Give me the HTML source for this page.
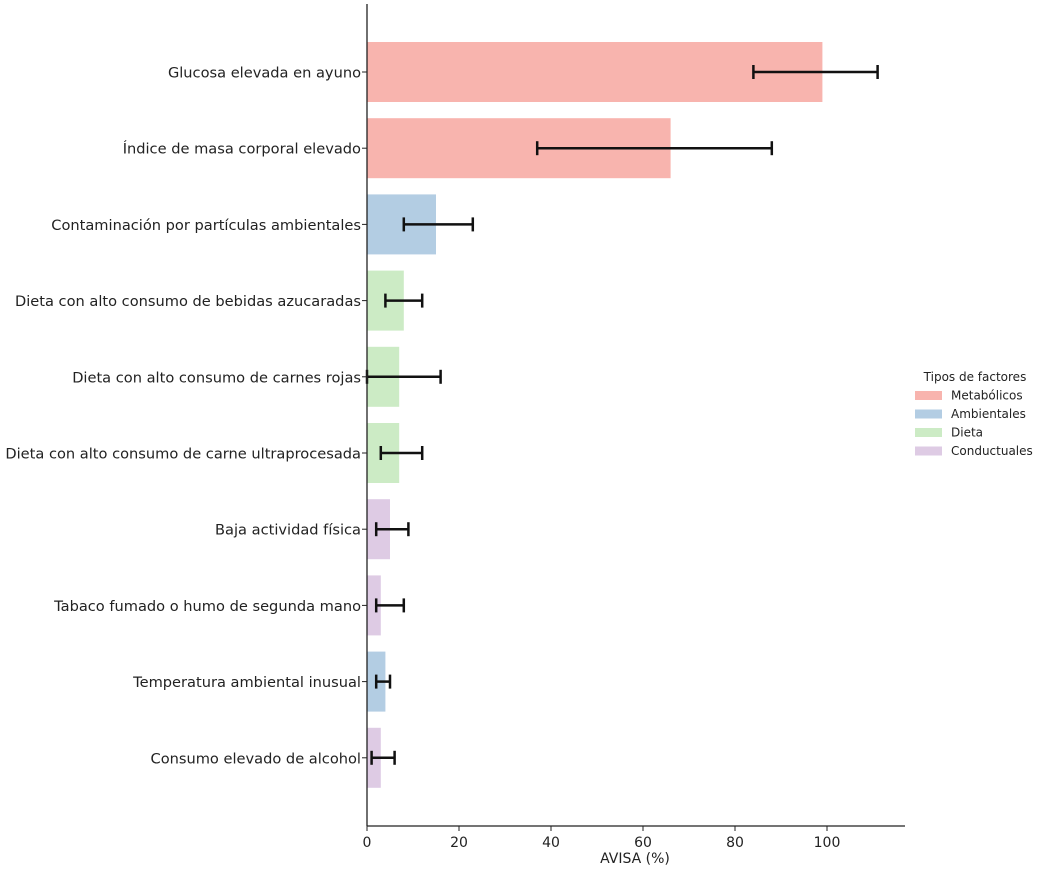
<!DOCTYPE html>
<html><head><meta charset="utf-8"><style>
body{margin:0;background:#fff;}
svg{display:block;font-family:"DejaVu Sans","Liberation Sans",sans-serif;}
</style></head><body>
<svg id="chart" width="1037" height="869" viewBox="0 0 1037 869"></svg>
<script>
const categories=["Glucosa elevada en ayuno","Índice de masa corporal elevado","Contaminación por partículas ambientales","Dieta con alto consumo de bebidas azucaradas","Dieta con alto consumo de carnes rojas","Dieta con alto consumo de carne ultraprocesada","Baja actividad física","Tabaco fumado o humo de segunda mano","Temperatura ambiental inusual","Consumo elevado de alcohol"];
const values=[99,66,15,8,7,7,5,3,4,3];
const errLow=[84,37,8,4,0,3,2,2,2,1];
const errHigh=[111,88,23,12,16,12,9,8,5,6];
const types=["Metabólicos","Metabólicos","Ambientales","Dieta","Dieta","Dieta","Conductuales","Conductuales","Ambientales","Conductuales"];
const legendTypes=["Metabólicos","Ambientales","Dieta","Conductuales"];
const xTicks=[0,20,40,60,80,100];
const colors={"Metabólicos":"#f8b4ae","Ambientales":"#b3cde3","Dieta":"#ccebc5","Conductuales":"#decbe4"};
const NS="http://www.w3.org/2000/svg";
const svg=document.getElementById('chart');
const x=v=>367+v*4.6;
const y=i=>72+i*76.2;
function el(t,a,p){const e=document.createElementNS(NS,t);for(const k in a)e.setAttribute(k,a[k]);(p||svg).appendChild(e);return e;}
categories.forEach((c,i)=>{
  const b=el('rect',{x:x(0),y:y(i)-30,width:x(values[i])-x(0),height:60,fill:colors[types[i]]});
  
  
  const g=el('g',{stroke:'#111','stroke-width':2.5});
  
  
  el('line',{x1:x(errLow[i]),x2:x(errHigh[i]),y1:y(i),y2:y(i)},g);
  el('line',{x1:x(errLow[i]),x2:x(errLow[i]),y1:y(i)-7,y2:y(i)+7},g);
  el('line',{x1:x(errHigh[i]),x2:x(errHigh[i]),y1:y(i)-7,y2:y(i)+7},g);
  const t=el('text',{x:361,y:y(i)+5.5,'text-anchor':'end','font-size':14.6,fill:'#222'});
  t.textContent=c;
  
  
  el('line',{x1:362,x2:367,y1:y(i),y2:y(i),stroke:'#222','stroke-width':1});
});
const ax=el('g',{stroke:'#222','stroke-width':1.3});


el('line',{x1:367,x2:367,y1:4,y2:826},ax);
el('line',{x1:367,x2:905,y1:826,y2:826},ax);
xTicks.forEach(v=>{
  el('line',{x1:x(v),x2:x(v),y1:826,y2:831,stroke:'#222'});
  const t=el('text',{x:x(v),y:847,'text-anchor':'middle','font-size':14,fill:'#222'});
  t.textContent=v;
  
  
});
const xt=el('text',{x:635,y:863,'text-anchor':'middle','font-size':14,fill:'#222'});
xt.textContent='AVISA (%)';


const lg=el('g',{});


const lt=el('text',{x:975,y:381,'text-anchor':'middle','font-size':12,fill:'#222'},lg);
lt.textContent='Tipos de factores';
legendTypes.forEach((k,i)=>{
  const yy=395+i*18.5;
  el('rect',{x:915,y:yy-4,width:27,height:9,fill:colors[k]},lg);
  const t=el('text',{x:951,y:yy+4.5,'font-size':12,fill:'#222'},lg);
  t.textContent=k;
  
  
});
</script>
</body></html>
